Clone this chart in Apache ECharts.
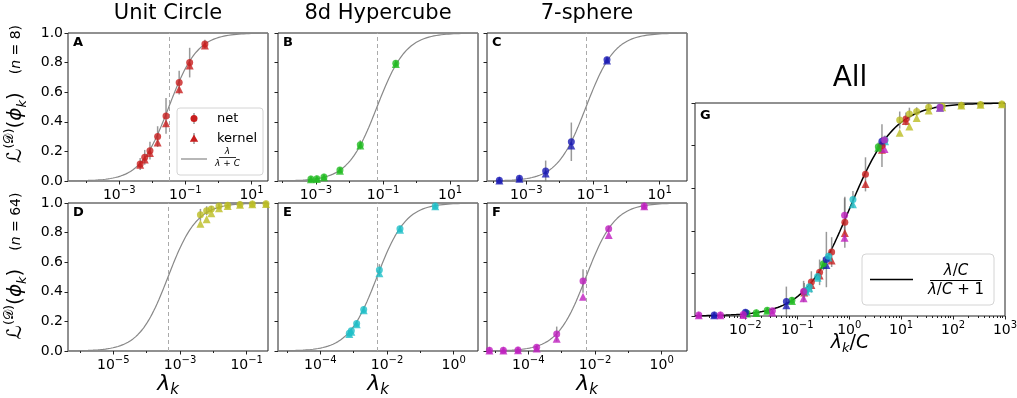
<!DOCTYPE html>
<html>
<head>
<meta charset="utf-8">
<script src="https://cdn.jsdelivr.net/npm/echarts@6.0.0/dist/echarts.min.js"></script>
<style>
  html, body { margin: 0; padding: 0; background: #fff; }
  #chart { width: 1017px; height: 398px; }
</style>
</head>
<body>
<div id="chart"></div>
<script>
// eigenvalue lambda_k, learnability of net / kernel, net error bar, constant C
const lamA = [0.0043, 0.0059, 0.0085, 0.0145, 0.026, 0.065, 0.135, 0.39];
const netA = [0.115, 0.16, 0.205, 0.30, 0.44, 0.665, 0.80, 0.925];
const kerA = [0.11, 0.145, 0.19, 0.26, 0.39, 0.62, 0.78, 0.915];
const errA = [0.04, 0.05, 0.06, 0.07, 0.12, 0.08, 0.10, 0.03];
const cA = 0.0316;

const lamB = [0.00071, 0.00107, 0.00174, 0.0052, 0.021, 0.24];
const netB = [0.013, 0.015, 0.027, 0.074, 0.245, 0.795];
const kerB = [0.012, 0.014, 0.025, 0.07, 0.24, 0.79];
const errB = [0.01, 0.01, 0.01, 0.015, 0.03, 0.02];
const cB = 0.066;

const lamC = [0.000155, 0.00062, 0.0038, 0.0224, 0.263];
const netC = [0.005, 0.018, 0.068, 0.265, 0.82];
const kerC = [0.004, 0.015, 0.05, 0.24, 0.815];
const errC = [0.005, 0.01, 0.07, 0.13, 0.02];
const cC = 0.0617;

const lamD = [0.0041, 0.0063, 0.0087, 0.0148, 0.027, 0.063, 0.148, 0.38];
const netD = [0.92, 0.948, 0.96, 0.98, 0.985, 0.99, 0.993, 0.995];
const kerD = [0.86, 0.89, 0.93, 0.965, 0.98, 0.988, 0.992, 0.994];
const errD = [0.04, 0.03, 0.02, 0.02, 0.01, 0.01, 0.005, 0.005];
const cD = 0.000437;

const lamE = [0.00074, 0.00085, 0.00123, 0.002, 0.0059, 0.0245, 0.28];
const netE = [0.12, 0.137, 0.185, 0.28, 0.547, 0.826, 0.98];
const kerE = [0.115, 0.13, 0.18, 0.275, 0.525, 0.82, 0.978];
const errE = [0.015, 0.015, 0.015, 0.02, 0.04, 0.02, 0.01];
const cE = 0.005;

const lamF = [6.8e-6, 1.78e-5, 4.9e-5, 1.78e-4, 7.1e-4, 0.00437, 0.0257, 0.30];
const netF = [0.005, 0.005, 0.007, 0.025, 0.115, 0.473, 0.826, 0.98];
const kerF = [0.004, 0.004, 0.005, 0.017, 0.083, 0.367, 0.784, 0.978];
const errF = [0.005, 0.005, 0.005, 0.01, 0.05, 0.08, 0.02, 0.01];
const cF = 0.00537;

const titles = ['Unit Circle', '8d Hypercube', '7-sphere'];

const FONT = 'DejaVu Sans';
const FRAME = '#222';

const panels = [
  { key: 'A', lam: lamA, net: netA, ker: kerA, err: errA, c: cA, color: '#c81e1e', xr: [-4.55, 1.5], major: [-3, -1, 1], minor: [-4, -2, 0], left: 68, top: 33 },
  { key: 'B', lam: lamB, net: netB, ker: kerB, err: errB, c: cB, color: '#22bb22', xr: [-4.13, 1.83], major: [-3, -1, 1], minor: [-4, -2, 0], left: 278, top: 33 },
  { key: 'C', lam: lamC, net: netC, ker: kerC, err: errC, c: cC, color: '#1a1ab4', xr: [-4.18, 1.82], major: [-3, -1, 1], minor: [-4, -2, 0], left: 487, top: 33 },
  { key: 'D', lam: lamD, net: netD, ker: kerD, err: errD, c: cD, color: '#bcbd22', xr: [-6.36, -0.36], major: [-5, -3, -1], minor: [-6, -4, -2], left: 68, top: 203 },
  { key: 'E', lam: lamE, net: netE, ker: kerE, err: errE, c: cE, color: '#1fbfc8', xr: [-5.27, 0.73], major: [-4, -2, 0], minor: [-5, -3, -1], left: 278, top: 203 },
  { key: 'F', lam: lamF, net: netF, ker: kerF, err: errF, c: cF, color: '#bf1fbf', xr: [-5.24, 0.76], major: [-4, -2, 0], minor: [-5, -3, -1], left: 487, top: 203 }
];
const gRange = [-2.97, 3];
const gMajor = [-2, -1, 0, 1, 2, 3];

function supText(n) {
  return n < 0 ? '\u2212' + (-n) : String(n);
}
const tickRich = {
  b: { fontSize: 14, fontFamily: FONT, color: '#000', lineHeight: 20 },
  s: { fontSize: 10, fontFamily: FONT, color: '#000', lineHeight: 12, verticalAlign: 'top' }
};
function decadeLabel(v) {
  return '{b|10}{s|' + supText(Math.round(v)) + '}';
}

// sigmoid lambda / (lambda + C) on a log axis
function curve(xr, logC) {
  const pts = [];
  const n = 240;
  for (let i = 0; i <= n; i++) {
    const x = xr[0] + (xr[1] - xr[0]) * i / n;
    pts.push([x, 1 / (1 + Math.pow(10, logC - x))]);
  }
  return pts;
}

function errBar(params, api) {
  const x = api.value(0), y = api.value(1), e = api.value(2);
  const a = api.coord([x, y - e]);
  const b = api.coord([x, y + e]);
  return {
    type: 'line',
    shape: { x1: a[0], y1: a[1], x2: b[0], y2: b[1] },
    style: { stroke: 'rgba(110,110,110,0.7)', lineWidth: 1.5 }
  };
}

const grids = [];
const xAxes = [];
const yAxes = [];
const series = [];

function addAxes(gi, xr, major, minor, showY) {
  xAxes.push({
    type: 'value', gridIndex: gi, position: 'bottom', min: xr[0], max: xr[1],
    axisLine: { show: false, onZero: false }, splitLine: { show: false },
    axisTick: { customValues: major, length: 3.5, lineStyle: { color: FRAME } },
    axisLabel: { customValues: major, formatter: decadeLabel, rich: tickRich, margin: 4 }
  });
  xAxes.push({
    type: 'value', gridIndex: gi, position: 'bottom', min: xr[0], max: xr[1],
    axisLine: { show: false, onZero: false }, splitLine: { show: false },
    axisTick: { customValues: minor, length: 2, lineStyle: { color: FRAME } },
    axisLabel: { show: false }
  });
  yAxes.push({
    type: 'value', gridIndex: gi, position: 'left', min: 0, max: 1, interval: 0.2,
    axisLine: { show: false, onZero: false }, splitLine: { show: false },
    axisTick: { length: 3.5, lineStyle: { color: FRAME } },
    axisLabel: {
      show: showY, margin: 5, fontSize: 14, fontFamily: FONT, color: '#000',
      formatter: v => v.toFixed(1)
    }
  });
}

panels.forEach((p, i) => {
  grids.push({ left: p.left, top: p.top, width: 200, height: 148, show: true, borderColor: FRAME, borderWidth: 1, outerBoundsMode: 'none' });
  addAxes(i, p.xr, p.major, p.minor, i % 3 === 0);
  const logC = Math.log10(p.c);
  const lx = p.lam.map(v => Math.log10(v));
  series.push({
    type: 'line', xAxisIndex: 2 * i, yAxisIndex: i, showSymbol: false, silent: true, z: 2,
    data: curve(p.xr, logC), lineStyle: { color: '#888', width: 1.2 },
    markLine: {
      silent: true, symbol: 'none', label: { show: false },
      lineStyle: { color: '#aaa', type: [4, 3], width: 1 },
      data: [{ xAxis: logC }]
    }
  });
  series.push({
    type: 'custom', xAxisIndex: 2 * i, yAxisIndex: i, z: 3, renderItem: errBar,
    encode: { x: 0, y: 1 },
    data: lx.map((x, k) => [x, p.net[k], p.err[k]])
  });
  series.push({
    type: 'scatter', name: 'kernel', xAxisIndex: 2 * i, yAxisIndex: i, z: 4,
    symbol: 'triangle', symbolSize: 8, itemStyle: { color: p.color },
    data: lx.map((x, k) => [x, p.ker[k]])
  });
  series.push({
    type: 'scatter', name: 'net', xAxisIndex: 2 * i, yAxisIndex: i, z: 5,
    symbol: 'circle', symbolSize: 7, itemStyle: { color: p.color },
    data: lx.map((x, k) => [x, p.net[k]])
  });
});

// panel G: everything against lambda / C
const gMinor = [];
for (let n = -3; n < 3; n++) {
  for (let k = 2; k <= 9; k++) {
    const v = n + Math.log10(k);
    if (v > gRange[0] && v < gRange[1]) gMinor.push(v);
  }
}
grids.push({ left: 695, top: 103, width: 310, height: 213, show: true, borderColor: FRAME, borderWidth: 1, outerBoundsMode: 'none' });
addAxes(6, gRange, gMajor, gMinor, false);
series.push({
  type: 'line', xAxisIndex: 12, yAxisIndex: 6, showSymbol: false, silent: true, z: 2,
  data: curve(gRange, 0), lineStyle: { color: '#000', width: 1.5 }
});
panels.forEach(p => {
  const gx = p.lam.map(v => Math.log10(v / p.c));
  series.push({
    type: 'custom', xAxisIndex: 12, yAxisIndex: 6, z: 3, renderItem: errBar,
    encode: { x: 0, y: 1 },
    data: gx.map((x, k) => [x, p.net[k], p.err[k]])
  });
  series.push({
    type: 'scatter', xAxisIndex: 12, yAxisIndex: 6, z: 4,
    symbol: 'triangle', symbolSize: 8, itemStyle: { color: p.color },
    data: gx.map((x, k) => [x, p.ker[k]])
  });
  series.push({
    type: 'scatter', xAxisIndex: 12, yAxisIndex: 6, z: 5,
    symbol: 'circle', symbolSize: 7, itemStyle: { color: p.color },
    data: gx.map((x, k) => [x, p.net[k]])
  });
});

// texts and legends
const graphics = [];
function txt(x, y, text, opts) {
  graphics.push({
    type: 'text', x: x, y: y, z: 100,
    style: Object.assign({ text: text, fill: '#000', font: '14px ' + FONT, align: 'center', verticalAlign: 'middle' }, opts || {})
  });
}
const titleX = [168, 378, 587];
titles.forEach((t, i) => txt(titleX[i], 14, t, { font: '21px ' + FONT }));
txt(850, 79, 'All', { font: '28px ' + FONT });
panels.forEach(p => txt(p.left + 5, p.top + 10, p.key, { font: 'bold 13px ' + FONT, align: 'left' }));
txt(700, 116, 'G', { font: 'bold 13px ' + FONT, align: 'left' });

const mathRich = {
  L: { fontSize: 20, fontFamily: FONT, lineHeight: 26 },
  sup: { fontSize: 13, fontFamily: FONT, lineHeight: 14, verticalAlign: 'top' },
  phi: { fontSize: 20, fontFamily: FONT, fontStyle: 'italic', lineHeight: 26 },
  sub: { fontSize: 13, fontFamily: FONT, fontStyle: 'italic', lineHeight: 14, verticalAlign: 'bottom' },
  n: { fontSize: 14, fontFamily: FONT },
  ni: { fontSize: 14, fontFamily: FONT, fontStyle: 'italic' },
  lam: { fontSize: 22, fontFamily: FONT, fontStyle: 'italic', lineHeight: 28 },
  k: { fontSize: 15, fontFamily: FONT, fontStyle: 'italic', lineHeight: 18, verticalAlign: 'bottom' },
  glam: { fontSize: 19, fontFamily: FONT, fontStyle: 'italic', lineHeight: 24 },
  gk: { fontSize: 13, fontFamily: FONT, fontStyle: 'italic', lineHeight: 15, verticalAlign: 'bottom' },
  gs: { fontSize: 19, fontFamily: FONT, lineHeight: 24 }
};
function yLabel(y, nText) {
  graphics.push({
    type: 'text', x: 16, y: y, rotation: Math.PI / 2, z: 100,
    style: {
      text: '{L|\u2112}{sup|(\uD835\uDC9F)}{L|(}{phi|\u03D5}{sub|k}{L|)}{n|    (}{ni|n}{n| = ' + nText + ')}',
      rich: mathRich, align: 'center', verticalAlign: 'middle', fill: '#000'
    }
  });
}
yLabel(94, '8');
yLabel(266, '64');
titleX.forEach(x => {
  graphics.push({
    type: 'text', x: x, y: 384, z: 100,
    style: { text: '{lam|\u03BB}{k|k}', rich: mathRich, align: 'center', verticalAlign: 'middle', fill: '#000' }
  });
});
graphics.push({
  type: 'text', x: 850, y: 343, z: 100,
  style: { text: '{glam|\u03BB}{gk|k}{gs|/}{glam|C}', rich: mathRich, align: 'center', verticalAlign: 'middle', fill: '#000' }
});

// legend of panel A
const red = panels[0].color;
graphics.push(
  { type: 'rect', z: 90, shape: { x: 177, y: 108, width: 86, height: 67, r: 3 }, style: { fill: 'rgba(255,255,255,0.85)', stroke: '#d4d4d4', lineWidth: 1 } },
  { type: 'line', z: 91, shape: { x1: 194, y1: 113, x2: 194, y2: 124 }, style: { stroke: 'rgba(110,110,110,0.7)', lineWidth: 1.5 } },
  { type: 'circle', z: 92, shape: { cx: 194, cy: 118.5, r: 3.5 }, style: { fill: red } },
  { type: 'line', z: 91, shape: { x1: 194, y1: 133, x2: 194, y2: 144 }, style: { stroke: 'rgba(110,110,110,0.7)', lineWidth: 1.5 } },
  { type: 'polygon', z: 92, shape: { points: [[194, 134.5], [198.2, 141.8], [189.8, 141.8]] }, style: { fill: red } },
  { type: 'line', z: 91, shape: { x1: 181, y1: 159, x2: 207, y2: 159 }, style: { stroke: '#888', lineWidth: 1.2 } },
  { type: 'line', z: 91, shape: { x1: 219, y1: 157.5, x2: 236, y2: 157.5 }, style: { stroke: '#000', lineWidth: 0.8 } }
);
txt(217, 118.5, 'net', { font: '13px ' + FONT, align: 'left' });
txt(217, 138.5, 'kernel', { font: '13px ' + FONT, align: 'left' });
txt(227.5, 152, '\u03BB', { font: 'italic 9px ' + FONT });
txt(227.5, 163.5, '{i|\u03BB} + {i|C}', { font: '9px ' + FONT, rich: { i: { fontSize: 9, fontFamily: FONT, fontStyle: 'italic' } } });

// legend of panel G
graphics.push(
  { type: 'rect', z: 90, shape: { x: 862, y: 254, width: 132, height: 51, r: 4 }, style: { fill: 'rgba(255,255,255,0.85)', stroke: '#d4d4d4', lineWidth: 1 } },
  { type: 'line', z: 91, shape: { x1: 870, y1: 279.5, x2: 913, y2: 279.5 }, style: { stroke: '#000', lineWidth: 1.5 } },
  { type: 'line', z: 91, shape: { x1: 930, y1: 280.5, x2: 982, y2: 280.5 }, style: { stroke: '#000', lineWidth: 1 } }
);
const gRich = { i: { fontSize: 15, fontFamily: FONT, fontStyle: 'italic' }, r: { fontSize: 15, fontFamily: FONT } };
txt(956, 271, '{i|\u03BB}{r|/}{i|C}', { rich: gRich });
txt(956, 290.5, '{i|\u03BB}{r|/}{i|C}{r| + 1}', { rich: gRich });

const chart = echarts.init(document.getElementById('chart'));
chart.setOption({
  animation: false,
  backgroundColor: '#fff',
  grid: grids,
  xAxis: xAxes,
  yAxis: yAxes,
  series: series,
  graphic: graphics
});
</script>
</body>
</html>
